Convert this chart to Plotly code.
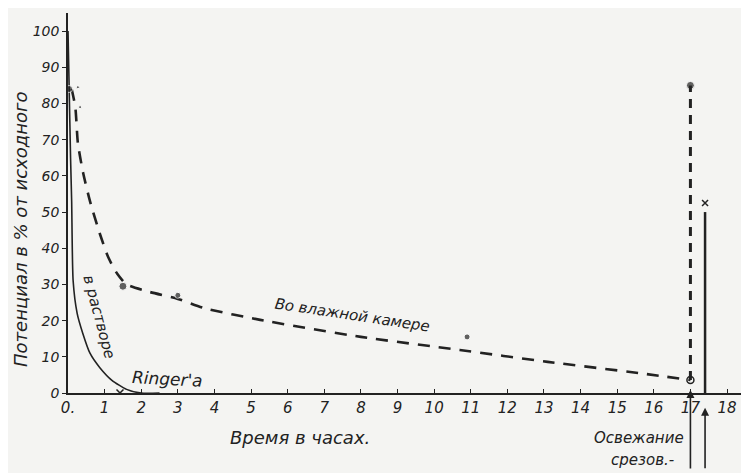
import plotly.graph_objects as go

# Solid curve: in Ringer's solution
ringer_x = [0, 0.03, 0.07, 0.1, 0.14, 0.25, 0.4, 0.6, 0.87, 1.2, 1.6, 2.0, 2.5]
ringer_y = [100, 85, 65, 53, 31, 22, 16.6, 11, 7, 3.5, 1, 0, 0]
ringer_mark_x = [1.42]
ringer_mark_y = [0]

# Dashed curve: in the moist chamber
moist_x = [0.1, 0.2, 0.27, 0.41, 0.6, 0.87, 1.1, 1.34, 1.6, 2.2, 3.0, 3.7, 5.25, 8, 10.7, 13.1, 15.6, 17]
moist_y = [84, 79, 69, 61, 53, 44, 37.5, 33, 30, 28, 26, 23.5, 20.2, 15.5, 11.9, 8.6, 5.5, 3.6]
moist_dots_x = [0.03, 0.27, 0.33, 1.5, 3.0, 10.9, 17]
moist_dots_y = [84, 84.5, 79, 29.5, 27, 15.5, 85]
open_x = [17]
open_y = [3.6]

# After refreshing the cuts
refresh_dash_x = [17, 17]
refresh_dash_y = [3.6, 85]
refresh_solid_x = [17.4, 17.4]
refresh_solid_y = [0, 50]
refresh_mark_x = [17.4]
refresh_mark_y = [52.5]

xticks = list(range(0, 19))
xtick_text = ["0."] + [str(i) for i in range(1, 19)]
yticks = list(range(0, 101, 10))
ytick_text = [str(v) for v in yticks]

ink = "#222222"
bg = "#f4f4f2"
fnt = "DejaVu Sans"

fig = go.Figure()
fig.add_trace(go.Scatter(x=ringer_x, y=ringer_y, mode="lines",
                         line=dict(color=ink, width=1.6, shape="spline", smoothing=0.6),
                         hoverinfo="skip"))
fig.add_trace(go.Scatter(x=ringer_mark_x, y=ringer_mark_y, mode="markers",
                         marker=dict(symbol="x-thin", size=7, line=dict(color=ink, width=1.5)),
                         hoverinfo="skip"))
fig.add_trace(go.Scatter(x=moist_x, y=moist_y, mode="lines",
                         line=dict(color=ink, width=2.6, dash="12px,9px", shape="spline", smoothing=0.6),
                         hoverinfo="skip"))
fig.add_trace(go.Scatter(x=moist_dots_x, y=moist_dots_y, mode="markers",
                         marker=dict(symbol="circle", size=[7, 3, 3, 8, 6, 6, 8], color=ink),
                         hoverinfo="skip"))
fig.add_trace(go.Scatter(x=open_x, y=open_y, mode="markers",
                         marker=dict(symbol="circle-open", size=7, color=ink, line=dict(width=1.5)),
                         hoverinfo="skip"))
fig.add_trace(go.Scatter(x=refresh_dash_x, y=refresh_dash_y, mode="lines",
                         line=dict(color=ink, width=3, dash="9px,7px"), hoverinfo="skip"))
fig.add_trace(go.Scatter(x=refresh_solid_x, y=refresh_solid_y, mode="lines",
                         line=dict(color=ink, width=2.5), hoverinfo="skip"))
fig.add_trace(go.Scatter(x=refresh_mark_x, y=refresh_mark_y, mode="markers",
                         marker=dict(symbol="x-thin", size=6, line=dict(color=ink, width=1.5)),
                         hoverinfo="skip"))

it = "italic"
annots = [
    dict(x=7.75, y=21.5, text="Во влажной камере", textangle=8.5, xref="x", yref="y",
         xanchor="center", yanchor="middle", showarrow=False, font=dict(size=15, style=it)),
    dict(x=0.85, y=21, text="в растворе", textangle=75, xref="x", yref="y",
         xanchor="center", yanchor="middle", showarrow=False, font=dict(size=15, style=it)),
    dict(x=2.73, y=4.0, text="Ringer'a", textangle=3, xref="x", yref="y",
         xanchor="center", yanchor="middle", showarrow=False, font=dict(size=17, style=it)),
    dict(x=6.34, y=-0.116, text="Время в часах.", xref="x", yref="paper",
         xanchor="center", yanchor="middle", showarrow=False, font=dict(size=18, style=it)),
    dict(x=15.6, y=-0.118, text="Освежание", xref="x", yref="paper",
         xanchor="center", yanchor="middle", showarrow=False, font=dict(size=15, style=it)),
    dict(x=15.7, y=-0.175, text="срезов.-", xref="x", yref="paper",
         xanchor="center", yanchor="middle", showarrow=False, font=dict(size=15, style=it)),
    dict(x=-0.07, y=0.43, text="Потенциал в % от исходного", textangle=-90,
         xref="paper", yref="paper", xanchor="center", yanchor="middle",
         showarrow=False, font=dict(size=18, style=it)),
    dict(x=17, y=0.008, xref="x", yref="paper", text="", showarrow=True, ax=0, ay=80,
         arrowhead=2, arrowsize=1, arrowwidth=1.6, arrowcolor=ink),
    dict(x=17.4, y=-0.039, xref="x", yref="paper", text="", showarrow=True, ax=0, ay=62,
         arrowhead=2, arrowsize=1, arrowwidth=1.6, arrowcolor=ink),
]

# The page body adds an 8px offset, so the figure is sized to fit the window
fig.update_layout(
    width=741, height=465,
    margin=dict(l=60, r=0, t=5, b=80, autoexpand=False),
    paper_bgcolor=bg, plot_bgcolor=bg,
    showlegend=False,
    font=dict(family=fnt, color=ink, size=13),
    annotations=annots,
)
fig.update_xaxes(range=[0, 18.6], tickvals=xticks, ticktext=xtick_text, automargin=False,
                 showgrid=False, zeroline=False, showline=True, linecolor=ink, linewidth=1.5,
                 ticks="inside", ticklen=4, tickcolor=ink,
                 tickfont=dict(size=15, style=it, family=fnt))
fig.update_yaxes(range=[0, 105], tickvals=yticks, ticktext=ytick_text, automargin=False,
                 showgrid=False, zeroline=False, showline=True, linecolor=ink, linewidth=1.5,
                 ticks="outside", ticklen=4, tickcolor=ink,
                 tickfont=dict(size=14, style=it, family=fnt))

fig.write_html("out.html")
